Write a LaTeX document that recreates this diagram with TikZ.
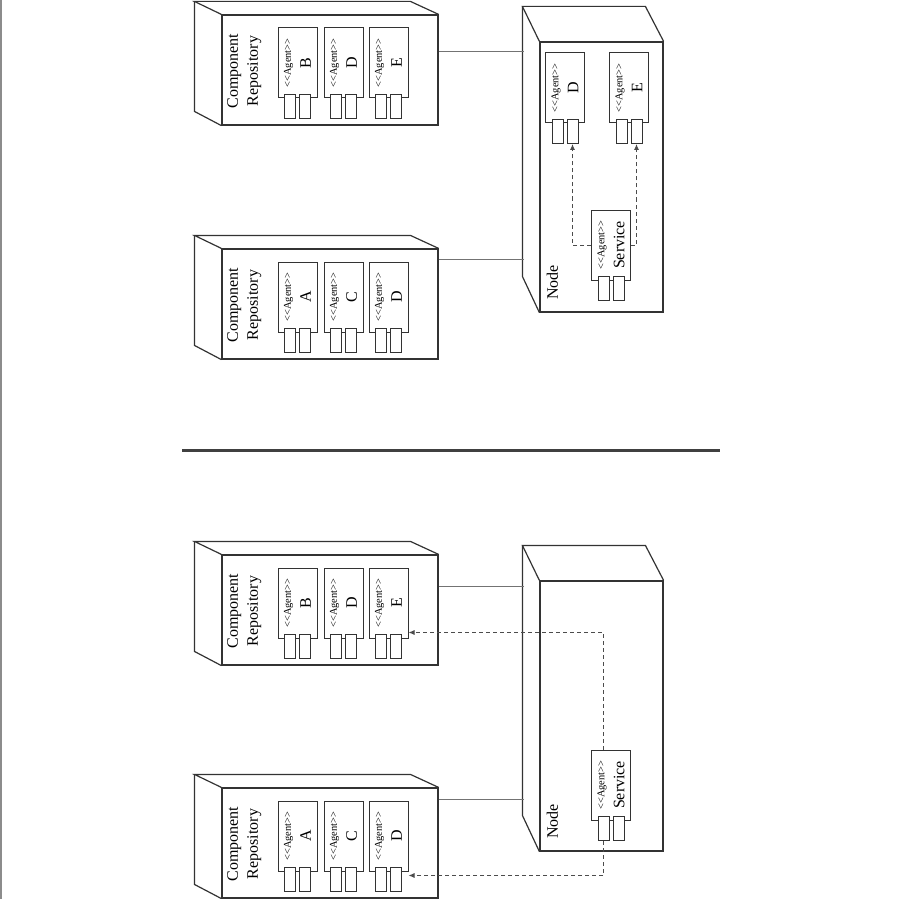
\documentclass[tikz,border=0pt]{standalone}
\usepackage{fontspec}
\setmainfont{Liberation Serif}
\usetikzlibrary{arrows.meta, positioning, calc}

\newcommand\agentst{{\fontsize{5.2}{7}\selectfont
    \textless\kern0pt\textless Agent\textgreater\kern0pt\textgreater}}

\begin{document}
\begin{tikzpicture}[
    x=0.5pt, y=-0.5pt,
    every node/.style={font=\fontsize{8}{10}\selectfont},
    face/.style={draw=black!80, line width=0.6pt, inner sep=0pt, fill=white},
    repo/.style={face, minimum width=108pt, minimum height=55pt},
    host/.style={face, minimum width=61.5pt, minimum height=135pt},
    agent/.style={
        draw=black!80, line width=0.5pt, fill=white,
        rotate=90, inner sep=0pt,
        minimum width=35pt, minimum height=19.5pt,
        align=center, font=\fontsize{8}{10}\selectfont
    },
    port/.style={
        draw=black!80, line width=0.5pt, fill=white,
        inner sep=0pt, minimum width=5.5pt, minimum height=12pt
    },
    edge/.style={draw=black!80, line width=0.6pt},
    link/.style={draw=black!55, line width=0.4pt},
    dep/.style={
        -{Latex[length=3pt,width=2.6pt]},
        dash pattern=on 2pt off 1.5pt,
        draw=black!70, line width=0.5pt
    },
    vlabel/.style={rotate=90, align=center},
    rule/.style={draw=black!75, line width=1.5pt}
    ]

    \useasboundingbox (0,0) rectangle (900,899);
    \draw[black!45, line width=1pt] (1,0) -- (1,899);

    % Top panel
    \node[repo] (rA) at (330,70)  {};
    \node[repo] (rB) at (330,304) {};
    \node[host] (hA) at (601.5,177) {};

    \foreach \r in {rA,rB} {
        \draw[edge] (\r.north west) -- ++(-27,-13) -- ++(216,0) -- (\r.north east);
        \draw[edge] (\r.north west) ++(-27,-13) -- ++(0,110) -- (\r.south west);
        \node[vlabel] (\r l) at ([shift={(23,1)}]\r.west) {Component\\Repository};
    }
    \draw[edge] (hA.north west) -- ++(-17,-35) -- ++(123,0) -- (hA.north east);
    \draw[edge] (hA.north west) ++(-17,-35) -- ++(0,270) -- (hA.south west);
    \node[vlabel] (hAl) at ([shift={(13,-30)}]hA.south west) {Node};

    \node[agent] (rAb) at ([shift={(-32.5,-7)}]rA.center) {\agentst\\B};
    \node[agent] (rAd) at ([shift={(13.5,-7)}]rA.center)  {\agentst\\D};
    \node[agent] (rAe) at ([shift={(58.5,-7)}]rA.center)  {\agentst\\E};

    \node[agent] (rBa) at ([shift={(-32.5,-7)}]rB.center) {\agentst\\A};
    \node[agent] (rBc) at ([shift={(13.5,-7)}]rB.center)  {\agentst\\C};
    \node[agent] (rBd) at ([shift={(58.5,-7)}]rB.center)  {\agentst\\D};

    \node[agent] (hAd) at ([shift={(-36.5,-89)}]hA.center) {\agentst\\D};
    \node[agent] (hAe) at ([shift={(27.5,-89)}]hA.center)  {\agentst\\E};
    \node[agent] (sA)  at ([shift={(9.5,68)}]hA.center)    {\agentst\\Service};

    % Separator
    \draw[rule] (182,450) -- (720,450);

    % Bottom panel
    \node[repo] (rC) at (330,610) {};
    \node[repo] (rD) at (330,843) {};
    \node[host] (hB) at (601.5,716) {};

    \foreach \r in {rC,rD} {
        \draw[edge] (\r.north west) -- ++(-27,-13) -- ++(216,0) -- (\r.north east);
        \draw[edge] (\r.north west) ++(-27,-13) -- ++(0,110) -- (\r.south west);
        \node[vlabel] (\r l) at ([shift={(23,1)}]\r.west) {Component\\Repository};
    }
    \draw[edge] (hB.north west) -- ++(-17,-35) -- ++(123,0) -- (hB.north east);
    \draw[edge] (hB.north west) ++(-17,-35) -- ++(0,270) -- (hB.south west);
    \node[vlabel] (hBl) at ([shift={(13,-30)}]hB.south west) {Node};

    \node[agent] (rCb) at ([shift={(-32.5,-7)}]rC.center) {\agentst\\B};
    \node[agent] (rCd) at ([shift={(13.5,-7)}]rC.center)  {\agentst\\D};
    \node[agent] (rCe) at ([shift={(58.5,-7)}]rC.center)  {\agentst\\E};

    \node[agent] (rDa) at ([shift={(-32.5,-7)}]rD.center) {\agentst\\A};
    \node[agent] (rDc) at ([shift={(13.5,-7)}]rD.center)  {\agentst\\C};
    \node[agent] (rDd) at ([shift={(58.5,-7)}]rD.center)  {\agentst\\D};

    \node[agent] (sB)  at ([shift={(9.5,69)}]hB.center)   {\agentst\\Service};

    % Ports
    \foreach \a in {rAb,rAd,rAe,rBa,rBc,rBd,hAd,hAe,sA,rCb,rCd,rCe,rDa,rDc,rDd,sB} {
        \node[port] (\a p1) at ([shift={(-7.5,8)}]\a.west) {};
        \node[port] (\a p2) at ([shift={(7.5,8)}]\a.west)  {};
    }

    % Links
    \draw[link] ([shift={(0,37)}]rA.north east) -- +(85,0);
    \draw[link] ([shift={(0,11)}]rB.north east) -- +(85,0);
    \draw[link] ([shift={(0,32)}]rC.north east) -- +(85,0);
    \draw[link] ([shift={(0,12)}]rD.north east) -- +(85,0);

    % Dependencies
    \draw[dep] (sA.north) -| (hAdp2.south);
    \draw[dep] (sA.south) -| (hAep2.south);
    \draw[dep] (sBp1 |- sB.east) |- ([shift={(0,-6)}]rCe.south west);
    \draw[dep] (sBp1.south) |- ([shift={(0,4)}]rDd.south west);

\end{tikzpicture}
\end{document}
